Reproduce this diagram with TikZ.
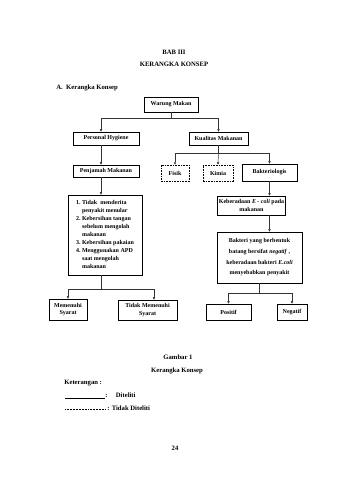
\documentclass[tikz,border=0pt]{standalone}
\usepackage{fontspec}
\setmainfont{Liberation Serif}
\usetikzlibrary{arrows.meta, positioning, calc}

\tikzset{
  box/.style={draw, line width=1.4pt, font=\fontsize{9}{11}\selectfont\bfseries, align=center, inner sep=2pt},
  dbox/.style={box, line width=1.2pt, dash pattern=on 2.5pt off 1.5pt},
  conn/.style={line width=0.7pt, black!80},
  arr/.style={conn, -{Triangle[length=3.5pt, width=3.5pt]}},
  heading/.style={font=\fontsize{10}{12}\selectfont\bfseries},
}

\begin{document}
\begin{tikzpicture}[x=1.5pt, y=-1.5pt]
  \useasboundingbox (0,0) rectangle (340,480);

  % Judul bab
  \node[heading] (bab) at (174,52) {BAB III};
  \node[heading] (judul) at (174,64) {KERANGKA KONSEP};
  \node[heading, right] (sub) at (54,88) {A.\ \ Kerangka Konsep};

  % Kolom acuan untuk panah
  \coordinate (lcol) at (101,0);
  \coordinate (tcol) at (154,0);

  % Kotak-kotak
  \node[box, minimum width=81pt, minimum height=22.5pt] (warung) at (171,104.5) {Warung Makan};
  \node[box, minimum width=99pt, minimum height=19.5pt] (hygiene) at (106,138.5) {Personal Hygiene};
  \node[box, minimum width=88.5pt, minimum height=19.5pt] (kualitas) at (218.5,138.5) {Kualitas Makanan};
  \node[box, minimum width=99pt, minimum height=18pt] (penjamah) at (106,171) {Penjamah Makanan};
  \node[dbox, minimum width=42pt, minimum height=24pt] (fisik) at (175,173) {Fisik};
  \node[dbox, minimum width=45pt, minimum height=24pt] (kimia) at (218,173) {Kimia};
  \node[box, minimum width=82.5pt, minimum height=25.5pt] (bakteri) at (269.5,172.5) {Bakteriologis};
  \node[box, minimum width=111pt, minimum height=120pt, align=left, font=\fontsize{9}{12}\selectfont\bfseries] (daftar) at (105,235) {%
    \begin{tabular}{@{}l@{\ }l@{}}
      1. & Tidak\ \ menderita\\
         & penyakit menular\\
      2. & Kebersihan tangan\\
         & sebelum mengolah\\
         & makanan\\
      3. & Kebersihan pakaian\\
      4. & Menggunakan APD\\
         & saat mengolah\\
         & makanan
    \end{tabular}};
  \node[box, minimum width=100.5pt, minimum height=28.5pt] (keberadaan) at (251.5,205.5) {Keberadaan \textit{E - coli} pada\\makanan};
  \node[box, minimum width=127.5pt, minimum height=76.5pt, font=\fontsize{9}{16}\selectfont\bfseries] (bakteribtg) at (259.5,257.5) {Bakteri yang berbentuk\\batang bersifat \textit{negatif} ,\\keberadaan bakteri \textit{E.coli}\\menyebabkan penyakit};
  \node[box, minimum width=57pt, minimum height=31.5pt] (memenuhi) at (68,309.5) {Memenuhi\\Syarat};
  \node[box, minimum width=88.5pt, minimum height=30pt] (tidak) at (147.5,310) {Tidak Memenuhi\\Syarat};
  \node[box, minimum width=67.5pt, minimum height=24pt] (positif) at (228.5,312) {Positif};
  \node[box, minimum width=45pt, minimum height=24pt] (negatif) at (292,312) {Negatif};

  % Warung Makan ke cabang
  \draw[arr] (warung.south) -- ++(0,6) -| (hygiene.north -| lcol);
  \draw[arr] (warung.south) ++(0,6) -| (kualitas.north);

  % Kualitas Makanan ke jenisnya
  \draw[conn] (kualitas.south) -- ++(0,8) coordinate (j2);
  \draw[conn] (j2 -| fisik) -- (j2 -| bakteri);
  \draw[arr] (j2 -| fisik) -- (fisik.north);
  \draw[arr] (j2) -- (kimia.north);
  \draw[arr] (j2 -| bakteri) -- (bakteri.north);

  % Kolom kiri
  \draw[arr] (hygiene.south -| lcol) -- (penjamah.north -| lcol);
  \draw[arr] (penjamah.south -| lcol) -- (daftar.north -| lcol);
  \draw[conn] (daftar.south -| lcol) -- ++(0,14) coordinate (j3);
  \draw[arr] (j3) -| (memenuhi.north);
  \draw[arr] (j3) -| (tidak.north -| tcol);

  % Kolom kanan
  \draw[arr] (bakteri.south) -- (bakteri.south |- keberadaan.north);
  \draw[arr] (bakteri.south |- keberadaan.south) -- (bakteri.south |- bakteribtg.north);
  \draw[conn] (bakteribtg.south) -- ++(0,10) coordinate (j4);
  \draw[arr] (j4) -| (positif.north);
  \draw[arr] (j4) -| (negatif.north);

  % Keterangan gambar
  \node[heading] (gambar) at (178,357) {Gambar 1};
  \node[heading] (caption) at (177,371) {Kerangka Konsep};
  \node[heading, right] (ket) at (62,383) {Keterangan :};
  \node[heading, right] (diteliti) at (103,395) {:\quad\ Diteliti};
  \node[heading, right] (tdkditeliti) at (105,408) {: Tidak Diteliti};
  \draw[line width=0.6pt] (65,398) -- (105,398);
  \draw[line width=0.6pt, dash pattern=on 1.5pt off 0.8pt] (65,409) -- (106,409);

  % Nomor halaman
  \node[heading] (hal) at (175,448) {24};
\end{tikzpicture}
\end{document}
